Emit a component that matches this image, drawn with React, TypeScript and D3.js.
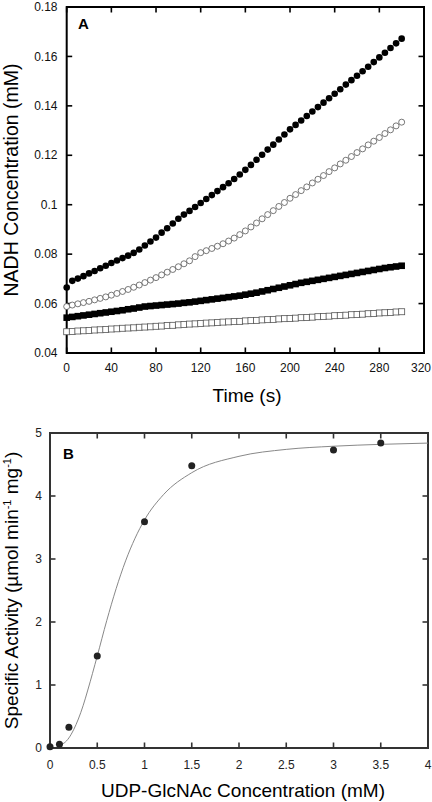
import React from "react";
import * as d3 from "d3";

// ---------- Panel A data (time course, every 5 s) ----------
const timeA = [
  0, 5, 10, 15, 20, 25, 30, 35, 40, 45, 50, 55, 60, 65, 70, 75, 80, 85, 90, 95,
  100, 105, 110, 115, 120, 125, 130, 135, 140, 145, 150, 155, 160, 165, 170, 175,
  180, 185, 190, 195, 200, 205, 210, 215, 220, 225, 230, 235, 240, 245, 250, 255,
  260, 265, 270, 275, 280, 285, 290, 295, 300,
];
const filledCircles = [
  0.0665, 0.0692, 0.0701, 0.0711, 0.0722, 0.0732, 0.0743, 0.0753, 0.0764, 0.0774,
  0.0784, 0.0794, 0.0805, 0.0819, 0.0835, 0.0851, 0.0867, 0.0887, 0.0905, 0.0924,
  0.0943, 0.096, 0.0975, 0.0991, 0.1007, 0.1023, 0.1039, 0.1055, 0.1071, 0.1087,
  0.1104, 0.1122, 0.1141, 0.1161, 0.1182, 0.1202, 0.1223, 0.1243, 0.1264, 0.1284,
  0.1305, 0.1323, 0.1341, 0.1359, 0.1377, 0.1395, 0.1413, 0.1431, 0.1449, 0.1467,
  0.1486, 0.1504, 0.1522, 0.154, 0.1558, 0.1577, 0.1596, 0.1615, 0.1634, 0.1653,
  0.1672,
];
const openCircles = [
  0.0588, 0.0594, 0.0599, 0.0604, 0.0609, 0.0615, 0.0621, 0.0627, 0.0634, 0.0641,
  0.0649, 0.0657, 0.0666, 0.0675, 0.0685, 0.0695, 0.0705, 0.0716, 0.0727, 0.0738,
  0.0749, 0.0761, 0.0773, 0.079, 0.0806, 0.0814, 0.0823, 0.0832, 0.0842, 0.0853,
  0.0865, 0.0879, 0.0894, 0.091, 0.0926, 0.0943, 0.096, 0.0976, 0.0993, 0.1009,
  0.1026, 0.1041, 0.1057, 0.1072, 0.1088, 0.1103, 0.1118, 0.1134, 0.1149, 0.1165,
  0.118, 0.1195, 0.1211, 0.1226, 0.1242, 0.1257, 0.1272, 0.1288, 0.1303, 0.1319,
  0.1334,
];
const filledSquares = [
  0.0543, 0.0546, 0.0549, 0.0552, 0.0555, 0.0558, 0.0561, 0.0564, 0.0567, 0.057,
  0.0573, 0.0577, 0.058, 0.0584, 0.0588, 0.059, 0.0592, 0.0594, 0.0596, 0.0598,
  0.06, 0.0603, 0.0605, 0.0608, 0.0611, 0.0614, 0.0617, 0.062, 0.0623, 0.0626,
  0.0629, 0.0632, 0.0636, 0.064, 0.0644, 0.0649, 0.0654, 0.0659, 0.0664, 0.0669,
  0.0674, 0.0679, 0.0684, 0.0688, 0.0692, 0.0696, 0.07, 0.0704, 0.0708, 0.0712,
  0.0716, 0.072, 0.0724, 0.0728, 0.0732, 0.0736, 0.074, 0.0744, 0.0747, 0.075,
  0.0753,
];
const openSquares = [
  0.0486, 0.0487, 0.0489, 0.049, 0.0491, 0.0493, 0.0494, 0.0495, 0.0497, 0.0498,
  0.05, 0.0501, 0.0502, 0.0504, 0.0505, 0.0506, 0.0508, 0.0509, 0.0511, 0.0512,
  0.0514, 0.0515, 0.0517, 0.0518, 0.0519, 0.0521, 0.0522, 0.0523, 0.0525, 0.0526,
  0.0527, 0.0528, 0.053, 0.0531, 0.0532, 0.0534, 0.0535, 0.0536, 0.0538, 0.0539,
  0.054, 0.0541, 0.0543, 0.0544, 0.0545, 0.0547, 0.0548, 0.0549, 0.0551, 0.0552,
  0.0553, 0.0555, 0.0556, 0.0557, 0.0559, 0.056, 0.0562, 0.0563, 0.0564, 0.0566,
  0.0567,
];
const xTicksA = [0, 40, 80, 120, 160, 200, 240, 280, 320];
const yTicksA = [0.04, 0.06, 0.08, 0.1, 0.12, 0.14, 0.16, 0.18];

// ---------- Panel B data ----------
const concB = [0, 0.1, 0.2, 0.5, 1, 1.5, 3, 3.5];
const activityB = [0.02, 0.06, 0.33, 1.46, 3.59, 4.48, 4.73, 4.84];
const fitX = [0.1, 0.15, 0.2, 0.25, 0.3, 0.35, 0.4, 0.5, 0.6, 0.7, 0.8, 0.9, 1.0, 1.2, 1.5, 2.0, 2.5, 3.0, 3.5, 4.0];
const fitY = [0.05, 0.08, 0.16, 0.29, 0.46, 0.67, 0.92, 1.46, 2.02, 2.53, 2.97, 3.33, 3.62, 4.02, 4.37, 4.63, 4.74, 4.79, 4.82, 4.84];
const xTicksB = [0, 0.5, 1, 1.5, 2, 2.5, 3, 3.5, 4];
const yTicksB = [0, 1, 2, 3, 4, 5];

const FONT = "'Liberation Sans', Arial, Helvetica, sans-serif";

export default function App() {
  // Panel A scales
  const xA = d3.scaleLinear().domain([0, 320]).range([66.7, 424]);
  const yA = d3.scaleLinear().domain([0.04, 0.18]).range([353, 7]);
  // Panel B scales
  const xB = d3.scaleLinear().domain([0, 4]).range([50, 428]);
  const yB = d3.scaleLinear().domain([0, 5]).range([748, 433]);

  const fitLine = d3
    .line<number>()
    .x((_, i) => xB(fitX[i]))
    .y((d) => yB(d))
    .curve(d3.curveMonotoneX)(fitY) as string;

  const tickLen = 5.5;
  const fmtA = (v: number) => (v === 0.1 ? "0.1" : d3.format(".2f")(v));

  return (
    <svg
      width={432}
      height={802}
      style={{ position: "absolute", left: 0, top: 0, background: "#fff" }}
      fontFamily={FONT}
    >
      <rect x={0} y={0} width={432} height={802} fill="#fff" />

      {/* ---------------- Panel A ---------------- */}
      <g>
        {xTicksA.map((t) => (
          <g key={"xa" + t} stroke="#000" strokeWidth={1.6}>
            <line x1={xA(t)} x2={xA(t)} y1={yA(0.04)} y2={yA(0.04) - tickLen} />
            <line x1={xA(t)} x2={xA(t)} y1={yA(0.18)} y2={yA(0.18) + tickLen} />
          </g>
        ))}
        {yTicksA.map((t) => (
          <g key={"ya" + t} stroke="#000" strokeWidth={1.6}>
            <line x1={xA(0)} x2={xA(0) + tickLen} y1={yA(t)} y2={yA(t)} />
            <line x1={xA(320)} x2={xA(320) - tickLen} y1={yA(t)} y2={yA(t)} />
          </g>
        ))}
        <rect
          x={xA(0)}
          y={yA(0.18)}
          width={xA(320) - xA(0)}
          height={yA(0.04) - yA(0.18)}
          fill="none"
          stroke="#000"
          strokeWidth={2}
        />
        {xTicksA.map((t) => (
          <text
            key={"xal" + t}
            x={Math.min(xA(t), 421)}
            y={372}
            fontSize={12}
            textAnchor="middle"
            fill="#111"
          >
            {t}
          </text>
        ))}
        {yTicksA.map((t) => (
          <text key={"yal" + t} x={57.5} y={yA(t) + 4.2} fontSize={12} textAnchor="end" fill="#111">
            {fmtA(t)}
          </text>
        ))}
        <text x={78} y={29} fontSize={15} fontWeight="bold" fill="#000">
          A
        </text>
        <text
          transform={`translate(17.5,${(yA(0.04) + yA(0.18)) / 2}) rotate(-90)`}
          fontSize={19.5}
          textAnchor="middle"
          fill="#000"
        >
          NADH Concentration (mM)
        </text>
        <text x={247} y={402} fontSize={19} textAnchor="middle" fill="#000">
          Time (s)
        </text>

        {timeA.map((t, i) => (
          <rect
            key={"os" + i}
            x={xA(t) - 3}
            y={yA(openSquares[i]) - 3}
            width={6}
            height={6}
            fill="#fff"
            stroke="#555"
            strokeWidth={0.8}
          />
        ))}
        {timeA.map((t, i) => (
          <rect
            key={"fs" + i}
            x={xA(t) - 3.3}
            y={yA(filledSquares[i]) - 3.3}
            width={6.6}
            height={6.6}
            fill="#000"
          />
        ))}
        {timeA.map((t, i) => (
          <circle
            key={"oc" + i}
            cx={xA(t)}
            cy={yA(openCircles[i])}
            r={3}
            fill="#fff"
            stroke="#555"
            strokeWidth={0.8}
          />
        ))}
        {timeA.map((t, i) => (
          <circle key={"fc" + i} cx={xA(t)} cy={yA(filledCircles[i])} r={3.3} fill="#000" />
        ))}
      </g>

      {/* ---------------- Panel B ---------------- */}
      <g>
        {xTicksB.map((t) => (
          <g key={"xb" + t} stroke="#333" strokeWidth={1.6}>
            <line x1={xB(t)} x2={xB(t)} y1={yB(0)} y2={yB(0) - tickLen} />
            <line x1={xB(t)} x2={xB(t)} y1={yB(5)} y2={yB(5) + tickLen} />
          </g>
        ))}
        {yTicksB.map((t) => (
          <g key={"yb" + t} stroke="#333" strokeWidth={1.6}>
            <line x1={xB(0)} x2={xB(0) + tickLen} y1={yB(t)} y2={yB(t)} />
            <line x1={xB(4)} x2={xB(4) - tickLen} y1={yB(t)} y2={yB(t)} />
          </g>
        ))}
        <rect
          x={xB(0)}
          y={yB(5)}
          width={xB(4) - xB(0)}
          height={yB(0) - yB(5)}
          fill="none"
          stroke="#333"
          strokeWidth={2}
        />
        {xTicksB.map((t) => (
          <text key={"xbl" + t} x={xB(t)} y={769} fontSize={12} textAnchor="middle" fill="#222">
            {t}
          </text>
        ))}
        {yTicksB.map((t) => (
          <text key={"ybl" + t} x={42} y={yB(t) + 4.2} fontSize={12} textAnchor="end" fill="#222">
            {t}
          </text>
        ))}
        <text x={63} y={459} fontSize={15} fontWeight="bold" fill="#000">
          B
        </text>
        <path d={fitLine} fill="none" stroke="#888" strokeWidth={1} />
        {concB.map((c, i) => (
          <circle key={"pb" + i} cx={xB(c)} cy={yB(activityB[i])} r={3.5} fill="#222" />
        ))}
        <text
          transform={`translate(17.5,${(yB(0) + yB(5)) / 2}) rotate(-90)`}
          fontSize={19}
          textAnchor="middle"
          fill="#000"
        >
          Specific Activity (µmol min
          <tspan fontSize={11} dy={-7}>-1</tspan>
          <tspan dy={7}> mg</tspan>
          <tspan fontSize={11} dy={-7}>-1</tspan>
          <tspan dy={7}>)</tspan>
        </text>
        <text x={243} y={797} fontSize={19} textAnchor="middle" fill="#000">
          UDP-GlcNAc Concentration (mM)
        </text>
      </g>
    </svg>
  );
}
